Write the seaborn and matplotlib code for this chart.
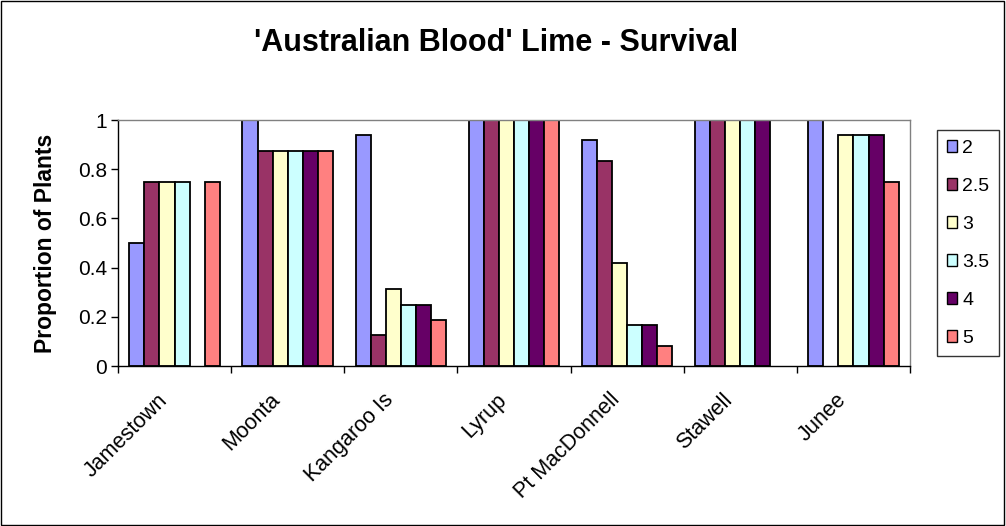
import numpy as np
import pandas as pd
import seaborn as sns
import matplotlib.pyplot as plt
import matplotlib.transforms as mtransforms
from matplotlib.patches import Rectangle

# 数据
sites = ["Jamestown", "Moonta", "Kangaroo Is", "Lyrup", "Pt MacDonnell", "Stawell", "Junee"]
levels = ["2", "2.5", "3", "3.5", "4", "5"]
nan = np.nan
s2 = [0.5, 1.0, 0.9375, 1.0, 0.917, 1.0, 1.0]
s2_5 = [0.75, 0.875, 0.125, 1.0, 0.833, 1.0, nan]
s3 = [0.75, 0.875, 0.3125, 1.0, 0.417, 1.0, 0.9375]
s3_5 = [0.75, 0.875, 0.25, 1.0, 0.167, 1.0, 0.9375]
s4 = [nan, 0.875, 0.25, 1.0, 0.167, 1.0, 0.9375]
s5 = [0.75, 0.875, 0.1875, 1.0, 0.083, nan, 0.75]
colors = ["#9999FF", "#993366", "#FFFFCC", "#CCFFFF", "#660066", "#FF8080"]

series = [s2, s2_5, s3, s3_5, s4, s5]
rows = []
for lvl, vals in zip(levels, series):
    for site, v in zip(sites, vals):
        rows.append({"Site": site, "Level": lvl, "Proportion": v})
df = pd.DataFrame(rows)

sns.set_style("white")
plt.rcParams['font.family'] = ['Liberation Sans', 'DejaVu Sans']
plt.rcParams['text.color'] = 'black'
plt.rcParams['axes.labelcolor'] = 'black'
plt.rcParams['xtick.color'] = 'black'
plt.rcParams['ytick.color'] = 'black'

fig = plt.figure(figsize=(10.06, 5.26), dpi=100)
ax = fig.add_axes([118 / 1006, 160 / 526, 792 / 1006, 246 / 526])

sns.barplot(data=df, x="Site", y="Proportion", hue="Level", order=sites,
            hue_order=levels, palette=colors, saturation=1, width=0.8, gap=0,
            edgecolor="black", linewidth=1.3, errorbar=None, ax=ax,
            legend=True)

ax.set_xlim(-0.5, 6.5)
ax.set_ylim(0, 1)
ax.set_yticks([0, 0.2, 0.4, 0.6, 0.8, 1.0])
ax.set_yticklabels(["0", "0.2", "0.4", "0.6", "0.8", "1"], fontsize=15)
ax.set_xticks(range(len(sites)))
ax.set_xticklabels(sites, rotation=45, ha="right", rotation_mode="anchor", fontsize=15.5)
ax.set_xticks(np.arange(-0.5, 7, 1), minor=True)
ax.tick_params(axis="x", which="major", length=0, pad=9)
ax.tick_params(axis="x", which="minor", length=5, width=1, color="black", direction="out", bottom=True)
ax.tick_params(axis="y", length=5, width=1, color="black", direction="out", left=True, pad=3)
ax.set_xlabel("")
ax.set_ylabel("Proportion of Plants", fontsize=16.5, fontweight="bold", labelpad=15)

# 标签整体左移、下移
shift = mtransforms.ScaledTranslation(-0.18, -0.11, fig.dpi_scale_trans)
for lbl in ax.get_xticklabels():
    lbl.set_transform(lbl.get_transform() + shift)

for side in ["left", "bottom"]:
    ax.spines[side].set_color("black")
    ax.spines[side].set_linewidth(1)
for side in ["top", "right"]:
    ax.spines[side].set_color("#808080")
    ax.spines[side].set_linewidth(1)
    ax.spines[side].set_visible(True)

fig.text(0.493, 1 - 43 / 526, "'Australian Blood' Lime - Survival", fontsize=22,
         fontweight="bold", ha="center", va="center")

handles, labels = ax.get_legend_handles_labels()
ax.legend_.remove()
leg = fig.legend(handles, labels, loc="upper left",
                 bbox_to_anchor=(937 / 1006, 1 - 130 / 526),
                 fontsize=14, frameon=True, fancybox=False, edgecolor="black",
                 labelspacing=1.08, handlelength=0.55, handleheight=0.55,
                 handletextpad=0.25, borderpad=0.5, borderaxespad=0)
leg.get_frame().set_linewidth(1)
for h in leg.legend_handles:
    h.set_edgecolor("black")
    h.set_linewidth(1)

fig.patches.append(Rectangle((0.001, 0.002), 0.997, 0.996, transform=fig.transFigure,
                             fill=False, edgecolor="black", linewidth=1))

plt.savefig("out.png", dpi=100)
